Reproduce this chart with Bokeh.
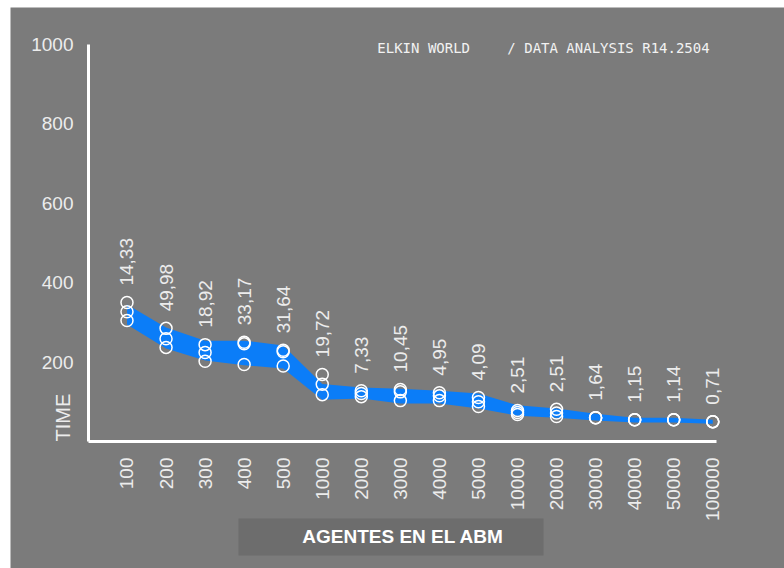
from math import pi
from bokeh.plotting import figure
from bokeh.models import FixedTicker, Label, LabelSet, ColumnDataSource, Range1d, BoxAnnotation
from bokeh.core.properties import value
from bokeh.embed import file_html
from bokeh.resources import INLINE

# ---- data ----
agents = ["100", "200", "300", "400", "500", "1000", "2000", "3000", "4000",
          "5000", "10000", "20000", "30000", "40000", "50000", "100000"]
band_hi = [345, 287, 254, 254, 242, 145, 136, 133, 128, 121, 91, 83, 70, 60, 60, 55]
band_lo = [295, 234, 204, 192, 184, 105, 108, 96, 96, 83, 65, 60, 53, 48, 48, 45]
run_max = [350, 285, 244, 250, 230, 169, 128, 131, 123, 111, 78, 81, 60, 55, 55, 50]
run_mid = [327, 259, 224, 246, 226, 144, 121, 125, 115, 100, 73, 72, 60, 55, 55, 50]
run_min = [305, 237, 202, 194, 190, 118, 113, 103, 103, 88, 68, 63, 60, 55, 55, 50]
std_labels = ["14,33", "49,98", "18,92", "33,17", "31,64", "19,72", "7,33", "10,45",
              "4,95", "4,09", "2,51", "2,51", "1,64", "1,15", "1,14", "0,71"]
y_ticks = [200, 400, 600, 800, 1000]

BG = "#7b7b7b"
BOX = "#6d6d6d"
BLUE = "#0b7df8"
TXT = "#ececec"

idx = list(range(len(agents)))
top = [max(a, b, c) for a, b, c in zip(run_max, run_mid, run_min)]

X_AX = (-0.986, 15.095)
Y_AX = (0, 1000)

p = figure(width=774, height=561,
           x_range=Range1d(-2.983, 16.837), y_range=Range1d(-319.9, 1093.2),
           output_backend="svg", toolbar_location=None,
           min_border=0, min_border_left=0, min_border_right=0,
           min_border_top=0, min_border_bottom=0,
           background_fill_color=BG, border_fill_color=BG,
           outline_line_color=None)
p.margin = (7, 0, 0, 10)
p.grid.visible = False

# x axis
p.xaxis.fixed_location = 0
p.xaxis.bounds = X_AX
p.xaxis.ticker = FixedTicker(ticks=idx)
p.xaxis.major_label_overrides = {i: a for i, a in zip(idx, agents)}
p.xaxis.major_label_orientation = pi / 2
p.xaxis.major_label_standoff = 10
# y axis
p.yaxis.fixed_location = X_AX[0]
p.yaxis.bounds = Y_AX
p.yaxis.ticker = FixedTicker(ticks=y_ticks)
p.yaxis.major_label_standoff = 9
for ax in (p.xaxis, p.yaxis):
    ax.axis_line_color = "white"
    ax.axis_line_width = 3
    ax.major_tick_line_color = None
    ax.minor_tick_line_color = None
    ax.major_label_text_color = TXT
    ax.major_label_text_font = "Liberation Sans"
    ax.major_label_text_font_size = "19px"

# band
p.varea(x=idx, y1=band_lo, y2=band_hi, fill_color=BLUE)

# run points
for ys in (run_max, run_mid, run_min):
    p.scatter(x=idx, y=ys, size=12, fill_color=None, line_color="white", line_width=1.5)

# value labels
src = ColumnDataSource(dict(x=idx, y=top, t=std_labels))
p.add_layout(LabelSet(x="x", y="y", text="t", source=src, angle=pi / 2,
                      y_offset=17, text_align="left", text_baseline="middle",
                      text_font=value("Liberation Sans"), text_font_size="19px",
                      text_color=TXT))

# header
p.add_layout(Label(x=6.41, y=990, text="ELKIN WORLD", text_font="DejaVu Sans Mono",
                   text_font_size="14px", text_color="#f2f2f2",
                   text_align="left", text_baseline="middle"))
p.add_layout(Label(x=9.74, y=990, text="/ DATA ANALYSIS R14.2504", text_font="DejaVu Sans Mono",
                   text_font_size="14px", text_color="#f2f2f2",
                   text_align="left", text_baseline="middle"))

# y axis title
p.add_layout(Label(x=-1.626, y=0, text="TIME", angle=pi / 2, text_font="Liberation Sans",
                   text_font_size="20px", text_color=TXT,
                   text_align="left", text_baseline="middle"))

# x axis title box
p.add_layout(BoxAnnotation(left=2.855, right=10.666, top=-194, bottom=-287,
                           fill_color=BOX, fill_alpha=1, line_color=None))
p.add_layout(Label(x=7.07, y=-240, text="AGENTES EN EL ABM", text_font="Liberation Sans",
                   text_font_size="19px", text_font_style="bold", text_color="white",
                   text_align="center", text_baseline="middle"))

open("out.html", "w").write(file_html(p, INLINE))
